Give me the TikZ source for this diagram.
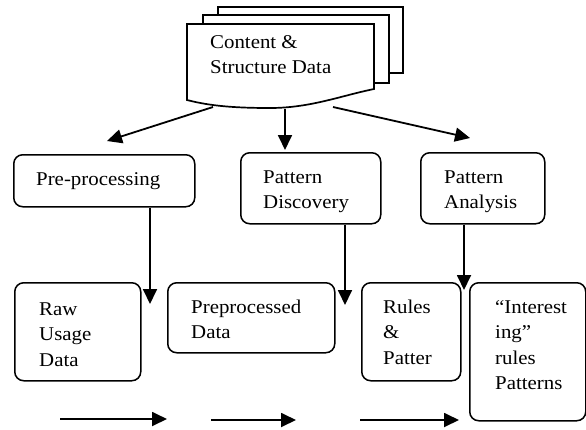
\documentclass[tikz,border=0pt]{standalone}
\usepackage{fontspec}
\setmainfont{Liberation Serif}[FakeStretch=1.07]
\usetikzlibrary{arrows.meta}

\begin{document}
\begin{tikzpicture}[x=1pt, y=-1pt,
  box/.style = {draw, rounded corners=9pt, line width=1.5pt, anchor=north west, inner sep=0pt},
  txt/.style = {anchor=base west, align=left, inner sep=0pt, font=\fontsize{19.5}{25.5}\selectfont},
  flow/.style = {line width=1.8pt, -{Triangle[length=15pt, width=14pt]}},
  sheet/.style = {draw, fill=white, line width=1.7pt}]
\useasboundingbox (0,0) rectangle (586,429);
% stack of documents
\draw[sheet] (218,7) rectangle (403,73);
\draw[sheet] (203,15) rectangle (389,83);
\draw[sheet] (187,24) -- (374,24) -- (374,89)
  .. controls (340,96) and (310,108) .. (270,108)
  .. controls (235,108) and (210,106) .. (187,100) -- cycle;
\node[txt, font=\fontsize{19.5}{24.5}\selectfont] (doc) at (210,73) {Content \&\\Structure Data};
\coordinate (docL) at (213,107);
\coordinate (docM) at (285,109);
\coordinate (docR) at (333,107);
% upper row (text placed by its last baseline)
\node[box, minimum width=181, minimum height=52] (pre) at (13,154) {};
\node[txt] (pretxt) at (36,185) {Pre-processing};
\node[box, minimum width=140, minimum height=71] (disc) at (240,152) {};
\node[txt] (disctxt) at (263,208.5) {Pattern\\Discovery};
\node[box, minimum width=124, minimum height=71] (anal) at (420,152) {};
\node[txt] (analtxt) at (444,208.5) {Pattern\\Analysis};
% lower row
\node[box, minimum width=126, minimum height=98] (raw) at (14,282) {};
\node[txt] (rawtxt) at (39,366) {Raw\\Usage\\Data};
\node[box, minimum width=167, minimum height=70] (prep) at (167,282) {};
\node[txt] (preptxt) at (191,338.5) {Preprocessed\\Data};
\node[box, minimum width=99, minimum height=98] (rules) at (361,282) {};
\node[txt] (rulestxt) at (383,364) {Rules\\\&\\Patter};
\node[box, minimum width=116, minimum height=138] (inter) at (469,282) {};
\node[txt] (intertxt) at (495,389.5) {``Interest\\ing''\\rules\\Patterns};
% arrows
\coordinate (preIn) at (107,141);
\coordinate (discIn) at (285,150);
\coordinate (analIn) at (470,138);
\draw[flow] (docL) -- (preIn);
\draw[flow] (docM) -- (discIn);
\draw[flow] (docR) -- (analIn);
\coordinate (rawTip) at (150,304);
\coordinate (prepTip) at (345,305);
\coordinate (rulesTip) at (464,290);
\draw[flow] (pre.south -| rawTip) -- (rawTip);
\draw[flow] (disc.south -| prepTip) -- (prepTip);
\draw[flow] (anal.south -| rulesTip) -- (rulesTip);
% bottom arrows
\coordinate (a1) at (60,419);  \coordinate (a2) at (167,419);
\coordinate (b1) at (211,420); \coordinate (b2) at (296,420);
\coordinate (c1) at (360,420); \coordinate (c2) at (459,420);
\draw[flow] (a1) -- (a2);
\draw[flow] (b1) -- (b2);
\draw[flow] (c1) -- (c2);
\end{tikzpicture}
\end{document}
